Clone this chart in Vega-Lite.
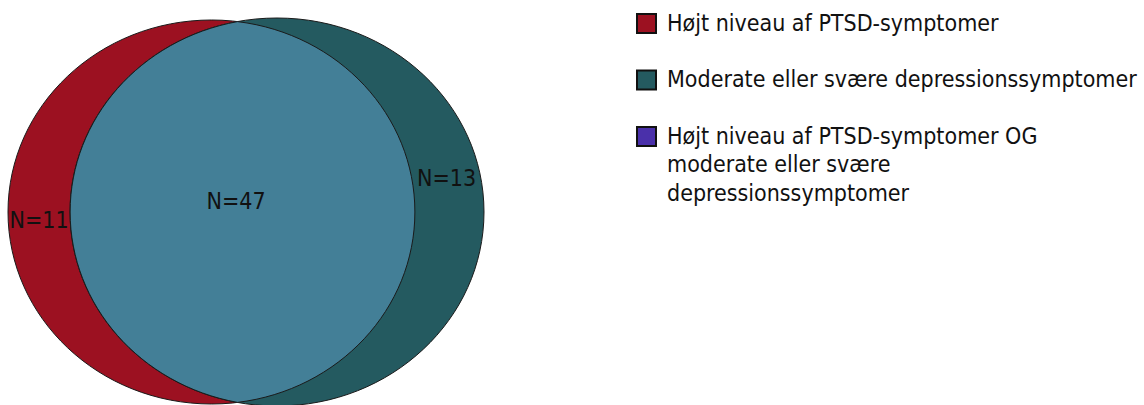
{
  "$schema": "https://vega.github.io/schema/vega-lite/v6.json",
  "width": 1144,
  "height": 405,
  "padding": 0,
  "autosize": {"type": "none"},
  "config": {
    "view": {"stroke": null},
    "font": "DejaVu Sans Condensed",
    "style": {"guide-label": {"lineHeight": 28.5}}
  },
  "datasets": {
    "sets": [
      {"set": "Højt niveau af PTSD-symptomer", "cx": 211.5, "cy": 212},
      {"set": "Moderate eller svære depressionssymptomer", "cx": 277, "cy": 212}
    ],
    "overlap": [
      {"set": "Højt niveau af PTSD-symptomer OG moderate eller svære depressionssymptomer", "cx": 242.5, "cy": 212}
    ],
    "labels": [
      {"label": "N=11", "lx": 39, "ly": 221},
      {"label": "N=47", "lx": 236, "ly": 202},
      {"label": "N=13", "lx": 446.5, "ly": 179}
    ]
  },
  "layer": [
    {
      "data": {"name": "sets"},
      "transform": [{"filter": "datum.set == 'Højt niveau af PTSD-symptomer'"}],
      "mark": {"type": "point", "filled": true, "opacity": 1, "shape": "M-1,0A1,0.9435,0,1,1,1,0A1,0.9435,0,1,1,-1,0Z", "size": 165649, "stroke": "#1a1a1a", "strokeWidth": 1},
      "encoding": {
        "x": {"field": "cx", "type": "quantitative", "scale": {"domain": [0, 1144], "nice": false, "zero": false}, "axis": null},
        "y": {"field": "cy", "type": "quantitative", "scale": {"domain": [0, 405], "reverse": true, "nice": false, "zero": false}, "axis": null},
        "color": {
          "field": "set", "type": "nominal",
          "scale": {
            "domain": ["Højt niveau af PTSD-symptomer", "Moderate eller svære depressionssymptomer", "Højt niveau af PTSD-symptomer OG moderate eller svære depressionssymptomer"],
            "range": ["#9c1121", "#245a60", "#4a30aa"]
          },
          "legend": {
            "orient": "none", "legendX": 635, "legendY": 12, "title": null, "padding": 0,
            "symbolType": "square", "symbolSize": 361, "symbolStrokeColor": "#111111", "symbolStrokeWidth": 2,
            "labelFont": "DejaVu Sans Condensed", "labelFontSize": 23, "labelColor": "#111111", "labelLimit": 700, "labelOffset": 9,
            "rowPadding": 29.5,
            "labelExpr": "datum.label == 'Højt niveau af PTSD-symptomer OG moderate eller svære depressionssymptomer' ? ['Højt niveau af PTSD-symptomer OG', 'moderate eller svære', 'depressionssymptomer'] : datum.label"
          }
        }
      }
    },
    {
      "data": {"name": "sets"},
      "transform": [{"filter": "datum.set == 'Moderate eller svære depressionssymptomer'"}],
      "mark": {"type": "point", "filled": true, "opacity": 1, "shape": "M-1,0A1,0.9372,0,1,1,1,0A1,0.9372,0,1,1,-1,0Z", "size": 171396, "stroke": "#1a1a1a", "strokeWidth": 1},
      "encoding": {
        "x": {"field": "cx", "type": "quantitative"},
        "y": {"field": "cy", "type": "quantitative"},
        "color": {"field": "set", "type": "nominal"}
      }
    },
    {
      "data": {"name": "overlap"},
      "mark": {"type": "point", "filled": true, "opacity": 1, "color": "#437f97", "shape": "M-0.029,-1.1038A1.1797,1.113,0,0,1,-0.029,1.1038A1.2,1.1246,0,0,1,-0.029,-1.1038Z", "size": 119025, "stroke": "#1a1a1a", "strokeWidth": 1},
      "encoding": {
        "x": {"field": "cx", "type": "quantitative"},
        "y": {"field": "cy", "type": "quantitative"}
      }
    },
    {
      "data": {"name": "labels"},
      "mark": {"type": "text", "font": "DejaVu Sans Condensed", "fontSize": 23, "color": "#111111", "baseline": "middle", "align": "center"},
      "encoding": {
        "x": {"field": "lx", "type": "quantitative"},
        "y": {"field": "ly", "type": "quantitative"},
        "text": {"field": "label"}
      }
    }
  ]
}
